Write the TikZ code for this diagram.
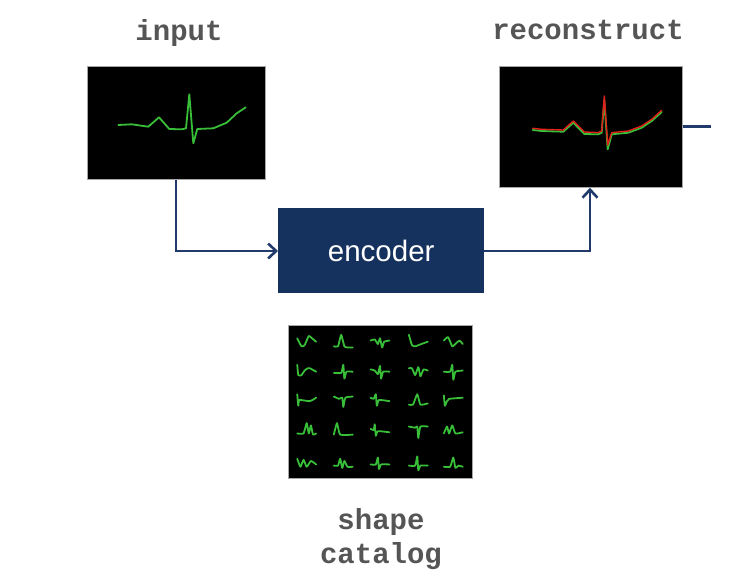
\documentclass[tikz,border=0pt]{standalone}
\usepackage{fontspec}
\setmainfont{Liberation Sans}
\newfontfamily\labmono{Liberation Mono}
\usetikzlibrary{arrows.meta}
\definecolor{navy}{HTML}{15325F}
\definecolor{linkc}{HTML}{1F3A6B}
\definecolor{labgray}{HTML}{555555}
\definecolor{ecgg}{HTML}{38BE38}
\definecolor{ecgr}{HTML}{E0201A}
\tikzset{
  screen/.style={draw=gray!70, line width=0.8pt, fill=black, inner sep=0pt, anchor=north west},
  lab/.style={font=\labmono\bfseries\fontsize{29}{33}\selectfont, text=labgray, anchor=base, inner sep=0pt},
  link/.style={draw=linkc, line width=2.6pt, line join=miter},
  arr/.style={link, -{Straight Barb[length=8pt, width=15pt, line width=2.6pt]}},
  ecg/.style={draw=ecgg, line width=1.8pt, line join=round, line cap=round},
}
\newcommand{\cell}[3]{\draw[ecg, shift={(#1,#2)}, xscale=1.05, yscale=1.15] plot[smooth, tension=0.3] coordinates {#3};}
\begin{document}
\begin{tikzpicture}[x=1pt, y=-1pt]
\useasboundingbox (0,0) rectangle (753,582);
% boxes
\node[screen, minimum width=178pt, minimum height=113pt] (inp) at (87,66) {};
\node[screen, minimum width=183pt, minimum height=121pt] (rec) at (499,66) {};
\node[screen, minimum width=184pt, minimum height=153pt] (cat) at (288,325) {};
\node[fill=navy, inner sep=0pt, minimum width=206pt, minimum height=85pt, anchor=north west,
      text=white, font=\fontsize{29.5}{33}\selectfont] (enc) at (278,208) {encoder};
% labels
\node[lab] (linp) at (179,40) {input};
\node[lab] (lrec) at (588,39.5) {reconstruct};
\node[lab] (lsh) at (381,529) {shape};
\node[lab] (lcat) at (381,563) {catalog};
% connectors
\coordinate (c1) at (176,251);
\coordinate (c2) at (590,251);
\coordinate (rout) at (711,126.5);
\draw[arr] (inp.south -| c1) -- (c1) -- (enc.west |- c1);
\draw[arr] (enc.east |- c2) -- (c2) -- (rec.south -| c2);
\draw[link] (rec.east |- rout) -- (rout);
% input trace
\draw[ecg] (118.3,125) -- (131.7,124.3) -- (148.3,126.7) -- (159,117.3) -- (169.3,129) -- (181.7,129.3) -- (186,128.3) -- (189.3,94.3) -- (193.3,143.3) -- (197.3,129) -- (213.3,128.3) -- (226.7,122.7) -- (236.7,113.3) -- (245.7,107.3);
% reconstruct traces
\draw[ecg] (532.7,130) -- (541.7,131) -- (563.3,131.7) -- (573.3,122.7) -- (584.3,134) -- (598.3,134.3) -- (601.7,132.7) -- (604.3,100) -- (607.7,149.3) -- (611.7,134.3) -- (628.3,132.7) -- (641.7,127.7) -- (651.7,121) -- (661.7,112);
\draw[ecg, draw=ecgr, line width=1.4pt] (532.7,128.3) -- (541.7,129.3) -- (563.3,130) -- (573.3,121) -- (584.3,132) -- (598.3,132.6) -- (601.7,131) -- (604.3,96) -- (607.7,145) -- (611.7,132.6) -- (628.3,131) -- (641.7,126) -- (651.7,119.3) -- (661.7,110.3);
% catalog grid
% row 1
\cell{306.7}{341.7}{(-9,-3) (-5,4) (-2,3) (2,-5) (5,-3) (9,0)}
\cell{343.3}{341.7}{(-9,4) (-5,4) (-2,-6) (1,4) (4,5) (9,5)}
\cell{380}{341.7}{(-9,-1) (-5,-2) (-2,2) (0,-3) (2,5) (4,0) (9,-1)}
\cell{418.3}{341.7}{(-9,-6) (-6,3) (-3,4) (3,2) (9,0)}
\cell{453.3}{341.7}{(-9,-1) (-5,-4) (-1,4) (3,1) (6,-1) (9,2)}
% row 2
\cell{306.7}{371.7}{(-9,-6) (-8,3) (-5,3) (-2,-1) (1,-3) (3,-3) (9,0)}
\cell{343.3}{371.7}{(-9,1) (-2,1) (0,-6) (1,6) (3,0) (9,0)}
\cell{380}{371.7}{(-9,-2) (-5,-1) (-2,2) (0,-5) (1,6) (3,0) (9,0)}
\cell{418.3}{371.7}{(-9,-3) (-6,-3) (-3,3) (0,-4) (2,4) (5,-2) (9,-1)}
\cell{453.3}{371.7}{(-9,0) (-3,0) (-1,-6) (0,7) (2,0) (9,-1)}
% row 3
\cell{306.7}{400}{(-9,-5) (-8,5) (-7,0) (3,1) (9,-2)}
\cell{343.3}{400}{(-9,-3) (-4,-1) (-1,-2) (0,6) (2,-2) (9,-3)}
\cell{380}{400}{(-9,-2) (-6,-1) (-4,-5) (-3,5) (-1,0) (9,1)}
\cell{418.3}{400}{(-9,4) (-5,4) (-1,-5) (2,4) (9,3)}
\cell{453.3}{400}{(-9,-4) (-8,5) (-6,1) (-4,-1) (9,-2)}
% row 4
\cell{306.7}{430}{(-9,3) (-3,3) (0,-6) (2,3) (4,-4) (6,4) (9,3)}
\cell{343.3}{430}{(-9,4) (-6,-6) (-3,4) (9,4)}
\cell{380}{430}{(-9,-1) (-6,0) (-5,-5) (-4,5) (-2,1) (9,2)}
\cell{418.3}{430}{(-9,-3) (-3,-2) (-1,-3) (0,7) (2,-3) (9,-3)}
\cell{453.3}{430}{(-9,3) (-6,-3) (-4,3) (-1,-4) (2,3) (9,2)}
% row 5
\cell{306.7}{463.3}{(-9,-4) (-6,3) (-3,-3) (0,3) (4,-2) (9,1)}
\cell{343.3}{463.3}{(-9,2) (-5,2) (-3,-4) (-1,4) (1,-2) (4,3) (9,3)}
\cell{380}{463.3}{(-9,1) (-4,1) (-2,-5) (-1,5) (1,1) (9,1)}
\cell{418.3}{463.3}{(-9,2) (-3,2) (-1,-6) (0,6) (2,2) (9,2)}
\cell{453.3}{463.3}{(-9,3) (-3,3) (0,-5) (2,4) (5,2) (9,3)}
\end{tikzpicture}
\end{document}
